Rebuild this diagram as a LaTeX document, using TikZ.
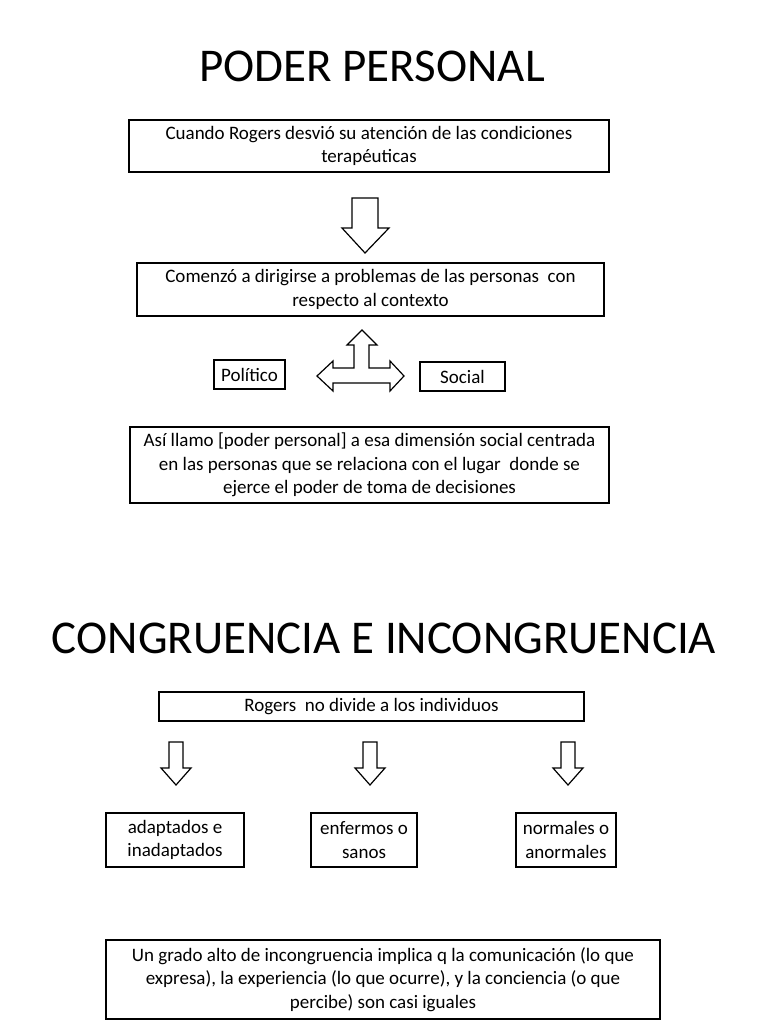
\documentclass[tikz,border=0pt]{standalone}
\usepackage{fontspec}
\setmainfont{Carlito}
\begin{document}
\begin{tikzpicture}[x=1pt,y=-1pt,
  bx/.style={draw,line width=1.2pt,align=center,inner sep=2pt,font=\fontsize{19}{23.5}\selectfont},
  ttl/.style={font=\fontsize{47}{52}\selectfont},
  arr/.style={draw,line width=1.2pt}]
\useasboundingbox (0,0) rectangle (768,1024);
\node[ttl] (t1) at (372,66) {PODER PERSONAL};
\node[bx,minimum width=480pt,minimum height=52pt] (b1) at (369,146) {Cuando Rogers desvió su atención de las condiciones\\terapéuticas};
\draw[arr] (352,198) -- (378,198) -- (378,228) -- (389,228) -- (365,253) -- (342,228) -- (352,228) -- cycle;
\node[bx,minimum width=467pt,minimum height=53pt] (b2) at (370.5,289.5) {Comenzó a dirigirse a problemas de las personas\ \ con\\respecto al contexto};
\node[bx,minimum width=71pt,minimum height=29pt] (pol) at (249.5,374.5) {Político};
\node[bx,minimum width=85pt,minimum height=29pt] (soc) at (462.5,376.5) {Social};
\draw[arr] (362,330) -- (377,345) -- (369,345) -- (369,368) -- (390,368) -- (390,361) -- (404,376) -- (390,391) -- (390,383) -- (333,383) -- (333,391) -- (317,376) -- (333,361) -- (333,368) -- (354,368) -- (354,345) -- (347,345) -- cycle;
\node[bx,minimum width=479pt,minimum height=76pt] (b3) at (369.5,465) {Así llamo [poder personal] a esa dimensión social centrada\\en las personas que se relaciona con el lugar\ \ donde se\\ejerce el poder de toma de decisiones};
\node[ttl] (t2) at (384,638) {CONGRUENCIA E INCONGRUENCIA};
\node[bx,minimum width=425pt,minimum height=29pt] (b4) at (371.5,706.5) {Rogers\ \ no divide a los individuos};
\foreach \cx in {176,370,568}{
  \draw[arr] (\cx-7,742) -- (\cx+7,742) -- (\cx+7,768) -- (\cx+15,768) -- (\cx,785) -- (\cx-15,768) -- (\cx-7,768) -- cycle;}
\node[bx,minimum width=138pt,minimum height=54pt] (c1) at (175,840) {adaptados e\\inadaptados};
\node[bx,minimum width=106pt,minimum height=54pt] (c2) at (364,840) {enfermos o\\sanos};
\node[bx,minimum width=100pt,minimum height=54pt] (c3) at (566,840) {normales o\\anormales};
\node[bx,minimum width=554pt,minimum height=79pt] (b5) at (383,979.5) {Un grado alto de incongruencia implica q la comunicación (lo que\\expresa), la experiencia (lo que ocurre), y la conciencia (o que\\percibe) son casi iguales};
\end{tikzpicture}
\end{document}
